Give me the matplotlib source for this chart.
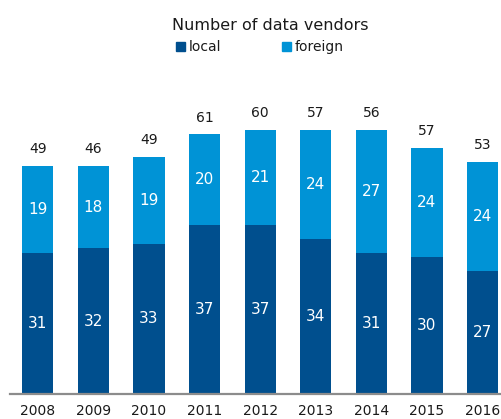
import numpy as np
import matplotlib.pyplot as plt
from matplotlib.patches import Patch

plt.rcParams['font.family'] = ['DejaVu Sans']

years = ['2008', '2009', '2010', '2011', '2012', '2013', '2014', '2015', '2016']
local = [31, 32, 33, 37, 37, 34, 31, 30, 27]
foreign = [19, 18, 19, 20, 21, 24, 27, 24, 24]
totals = [49, 46, 49, 61, 60, 57, 56, 57, 53]

c_local = '#004F8E'
c_foreign = '#0093D6'

fig = plt.figure(figsize=(5.02, 4.19), dpi=100)
ax = fig.add_axes([10 / 502, 25 / 419, 492 / 502, 294 / 419])

x = np.arange(len(years))
w = 0.56
ax.bar(x, local, w, color=c_local, edgecolor='none')
ax.bar(x, foreign, w, bottom=local, color=c_foreign, edgecolor='none')

for i in range(len(years)):
    ax.text(x[i], local[i] / 2, str(local[i]), ha='center', va='center',
            color='white', fontsize=11)
    ax.text(x[i], local[i] + foreign[i] / 2, str(foreign[i]), ha='center',
            va='center', color='white', fontsize=11)
    ax.annotate(str(totals[i]), (x[i], local[i] + foreign[i]),
                xytext=(0, 12), textcoords='offset points', ha='center',
                va='center', fontsize=10, color='#1a1a1a')

ax.set_xlim(-0.5, 8.35)
ax.set_ylim(0, 64.5)
ax.set_xticks(x)
ax.set_xticklabels(years, fontsize=10, color='#1a1a1a')
ax.tick_params(axis='x', length=0, pad=7)
ax.set_yticks([])
for s in ['top', 'right', 'left']:
    ax.spines[s].set_visible(False)
ax.spines['bottom'].set_color('#8c8c8c')
ax.spines['bottom'].set_linewidth(1.6)

fig.text(270 / 502, 1 - 25 / 419, 'Number of data vendors', ha='center',
         va='center', fontsize=11.5, color='#1a1a1a')

handles = [Patch(color=c_local, label='local'), Patch(color=c_foreign, label='foreign')]
fig.legend(handles=handles, ncol=2, frameon=False, loc='center',
           bbox_to_anchor=(260 / 502, 1 - 47 / 419), fontsize=10,
           handlelength=0.6, handleheight=0.6, handletextpad=0.3,
           columnspacing=4.4, labelcolor='#1a1a1a')

fig.savefig('out.png', dpi=100)
